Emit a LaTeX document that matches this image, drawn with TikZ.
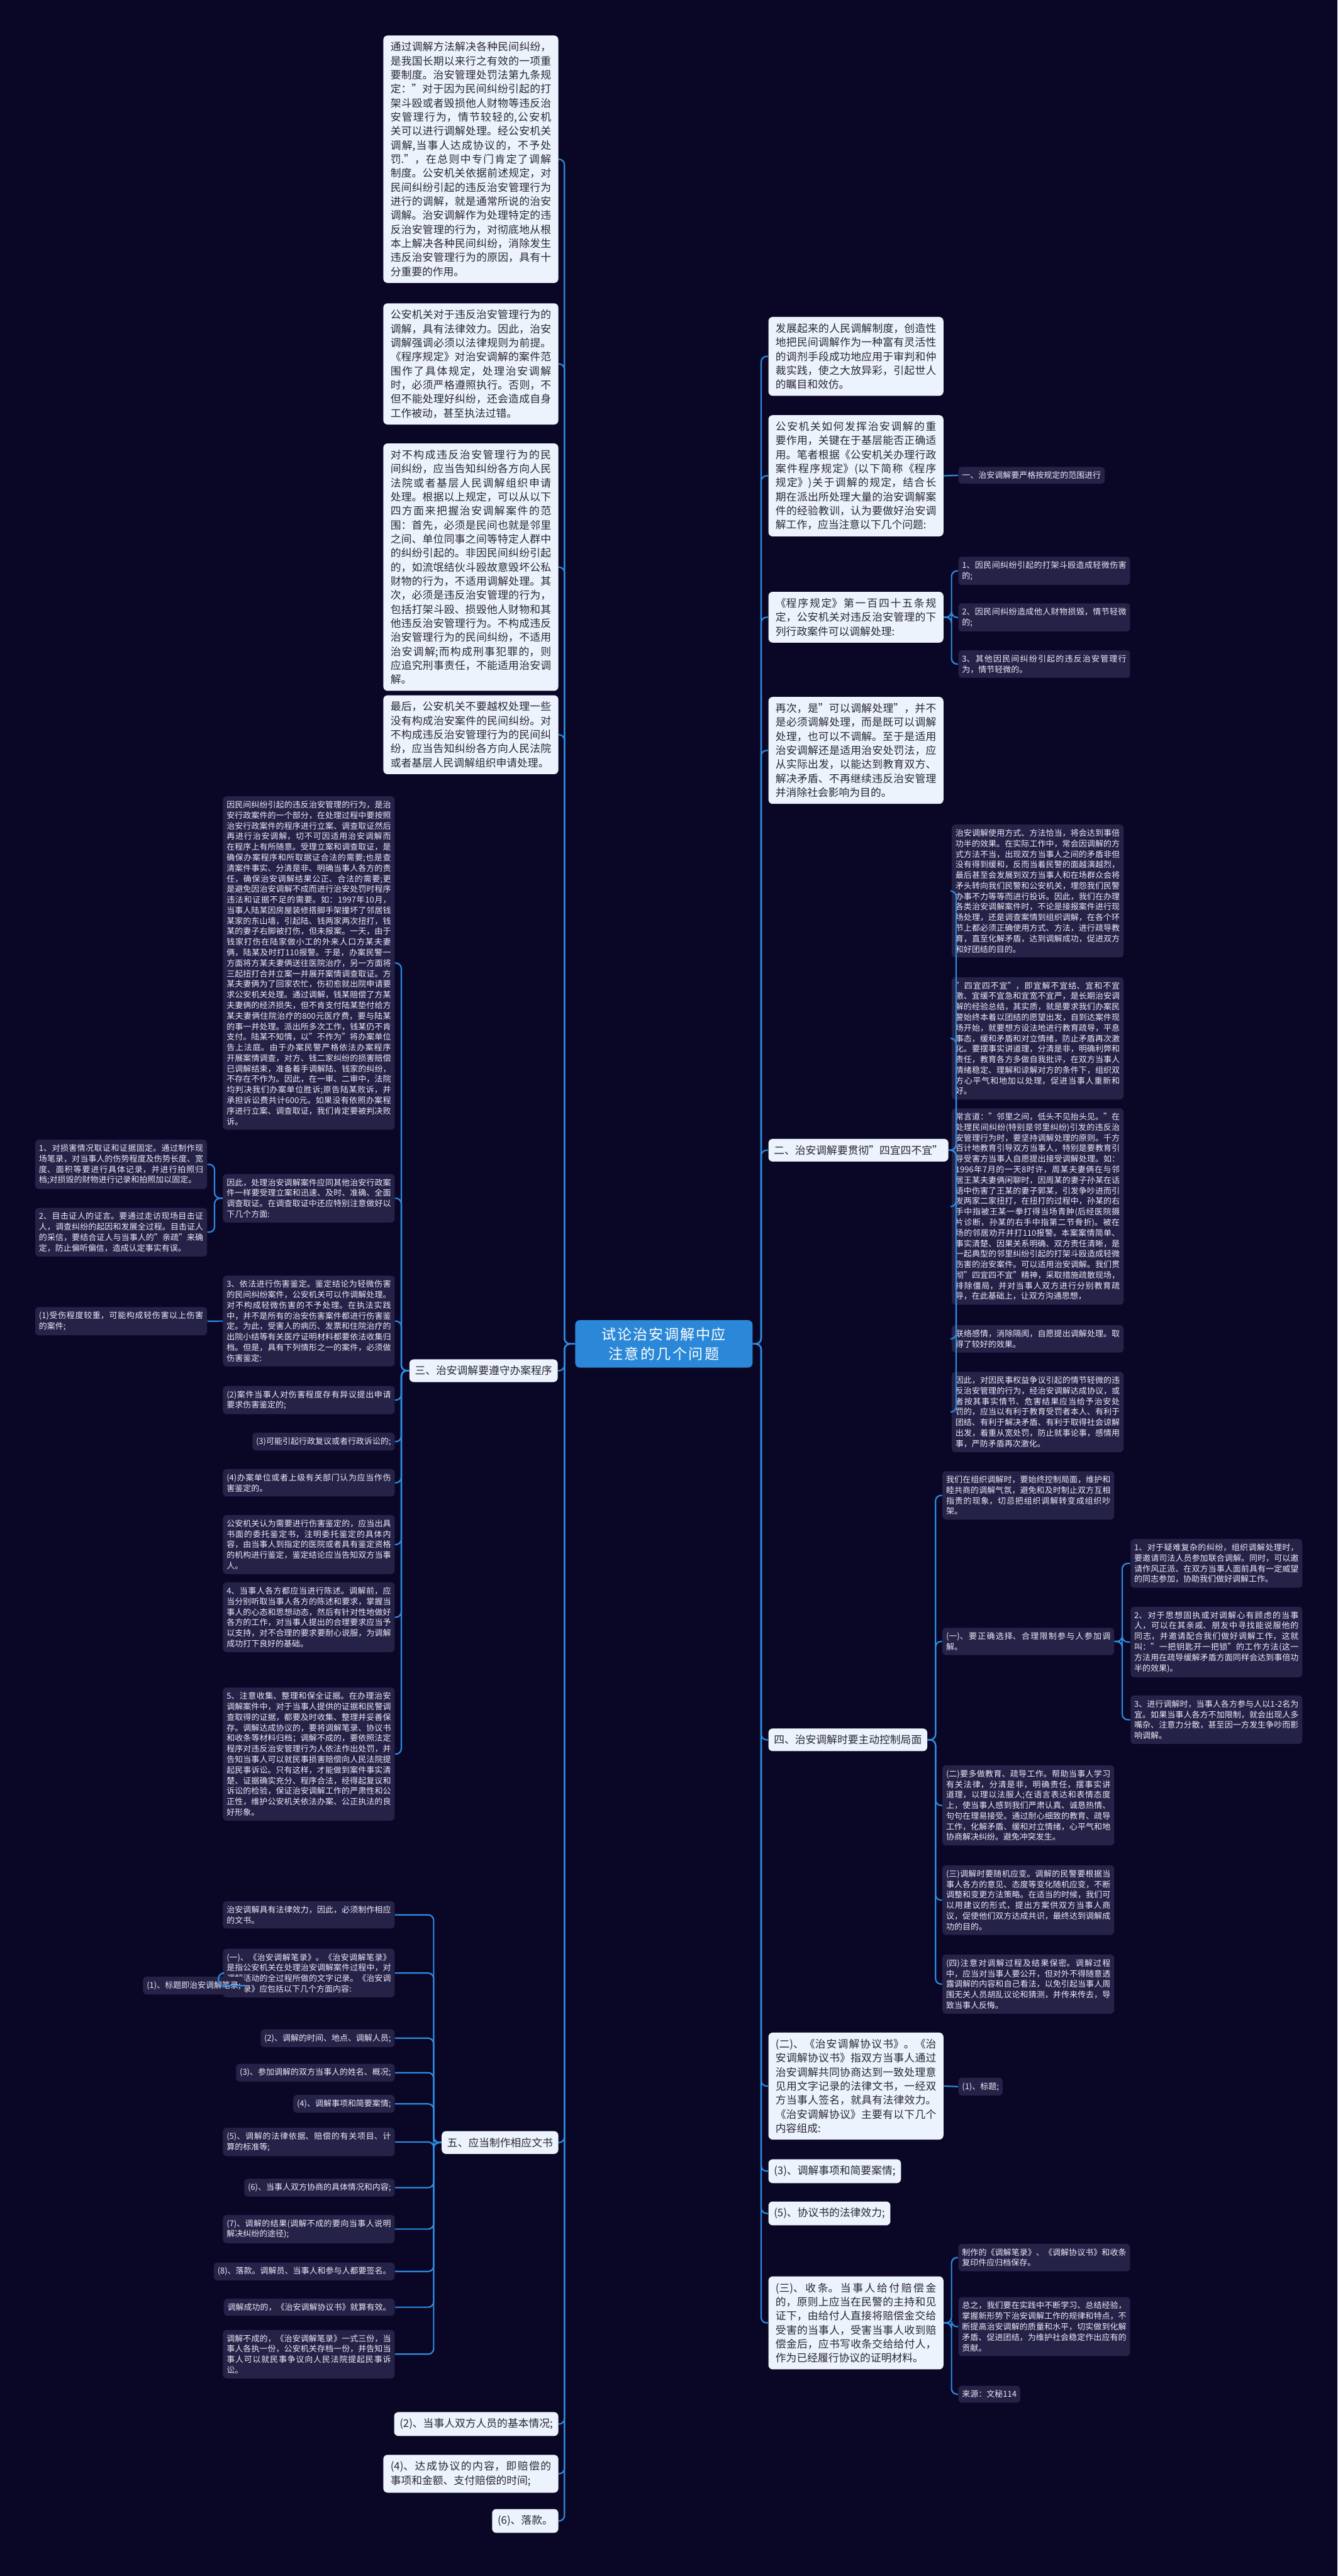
\documentclass[tikz,border=0pt]{standalone}
\usepackage{fontspec}
\setmainfont{Noto Sans CJK SC}
\XeTeXlinebreaklocale "zh"
\XeTeXlinebreakskip = 0pt plus 1pt

\definecolor{bgc}{RGB}{10,7,38}
\definecolor{wfill}{RGB}{237,243,252}
\definecolor{wtext}{RGB}{40,40,52}
\definecolor{dfill}{RGB}{37,34,72}
\definecolor{dtext}{RGB}{236,236,246}
\definecolor{rootc}{RGB}{43,136,216}
\definecolor{linkc}{RGB}{45,139,224}

\newcommand\bigtxt{\fontsize{5.75}{7.65}\selectfont}
\newcommand\smalltxt{\fontsize{4.45}{5.75}\selectfont}
\newcommand\roottxt{\fontsize{7.9}{10.5}\selectfont}

\begin{document}
\begin{tikzpicture}[
    x=0.3145mm, y=-0.3145mm,
    wbox/.style={rectangle, rounded corners=2.3pt, fill=wfill, text=wtext, font=\bigtxt,
        text width=87.5pt, align=justify, inner xsep=3.9pt, inner ysep=3.5pt},
    wtag/.style={rectangle, rounded corners=2.3pt, fill=wfill, text=wtext, font=\bigtxt,
        inner xsep=3pt, inner ysep=3.5pt},
    dbox/.style={rectangle, rounded corners=2pt, fill=dfill, text=dtext, font=\smalltxt,
        text width=89.5pt, align=justify, inner xsep=2pt, inner ysep=2.5pt},
    dtag/.style={rectangle, rounded corners=2pt, fill=dfill, text=dtext, font=\smalltxt,
        inner xsep=2pt, inner ysep=2.5pt},
    link/.style={draw=linkc, line width=0.75pt, rounded corners=3pt}
]
\fill[bgc] (0,0) rectangle (814,1568);
\useasboundingbox (0,0) rectangle (814,1568);

% centre
\node[rectangle, rounded corners=2.5pt, fill=rootc, text=white, font=\roottxt,
      text width=87.5pt, align=center, minimum width=96.6pt, inner ysep=4pt] (root) at (404,818)
      {试论治安调解中应注意的几个问题};

% left side
\node[wbox, anchor=north east] (intro1) at (340,21.4) {通过调解方法解决各种民间纠纷，是我国长期以来行之有效的一项重要制度。治安管理处罚法第九条规定："对于因为民间纠纷引起的打架斗殴或者毁损他人财物等违反治安管理行为，情节较轻的,公安机关可以进行调解处理。经公安机关调解,当事人达成协议的，不予处罚."，在总则中专门肯定了调解制度。公安机关依据前述规定，对民间纠纷引起的违反治安管理行为进行的调解，就是通常所说的治安调解。治安调解作为处理特定的违反治安管理的行为，对彻底地从根本上解决各种民间纠纷，消除发生违反治安管理行为的原因，具有十分重要的作用。};
\node[wbox, anchor=north east] (intro2) at (340,184.4) {公安机关对于违反治安管理行为的调解，具有法律效力。因此，治安调解强调必须以法律规则为前提。《程序规定》对治安调解的案件范围作了具体规定，处理治安调解时，必须严格遵照执行。否则，不但不能处理好纠纷，还会造成自身工作被动，甚至执法过错。};
\node[wbox, anchor=north east] (scope) at (340,269.7) {对不构成违反治安管理行为的民间纠纷，应当告知纠纷各方向人民法院或者基层人民调解组织申请处理。根据以上规定，可以从以下四方面来把握治安调解案件的范围：首先，必须是民间也就是邻里之间、单位同事之间等特定人群中的纠纷引起的。非因民间纠纷引起的，如流氓结伙斗殴故意毁坏公私财物的行为，不适用调解处理。其次，必须是违反治安管理的行为，包括打架斗殴、损毁他人财物和其他违反治安管理行为。不构成违反治安管理行为的民间纠纷，不适用治安调解;而构成刑事犯罪的，则应追究刑事责任，不能适用治安调解。};
\node[wbox, anchor=north east] (lastly) at (340,423) {最后，公安机关不要越权处理一些没有构成治安案件的民间纠纷。对不构成违反治安管理行为的民间纠纷，应当告知纠纷各方向人民法院或者基层人民调解组织申请处理。};

\node[wtag, anchor=north east] (sec3) at (339.6,827.2) {三、治安调解要遵守办案程序};
\node[dbox, anchor=north east] (case97) at (240.4,484.5) {因民间纠纷引起的违反治安管理的行为，是治安行政案件的一个部分，在处理过程中要按照治安行政案件的程序进行立案、调查取证然后再进行治安调解，切不可因适用治安调解而在程序上有所随意。受理立案和调查取证，是确保办案程序和所取据证合法的需要;也是查清案件事实、分清是非、明确当事人各方的责任，确保治安调解结果公正、合法的需要;更是避免因治安调解不成而进行治安处罚时程序违法和证据不足的需要。如：1997年10月，当事人陆某因房屋装修搭脚手架撞坏了邻居钱某家的东山墙，引起陆、钱两家两次扭打，钱某的妻子右脚被打伤，但未报案。一天，由于钱家打伤在陆家做小工的外来人口方某夫妻俩，陆某及时打110报警。于是，办案民警一方面将方某夫妻俩送往医院治疗，另一方面将三起扭打合并立案一并展开案情调查取证。方某夫妻俩为了回家农忙，伤初愈就出院申请要求公安机关处理。通过调解，钱某赔偿了方某夫妻俩的经济损失，但不肯支付陆某垫付给方某夫妻俩住院治疗的800元医疗费，要与陆某的事一并处理。派出所多次工作，钱某仍不肯支付。陆某不知情，以"不作为"将办案单位告上法庭。由于办案民警严格依法办案程序开展案情调查，对方、钱二家纠纷的损害赔偿已调解结束，准备着手调解陆、钱家的纠纷，不存在不作为。因此，在一审、二审中，法院均判决我们办案单位胜诉;原告陆某败诉，并承担诉讼费共计600元。如果没有依照办案程序进行立案、调查取证，我们肯定要被判决败诉。};
\node[dbox, anchor=north east] (evid) at (240.4,714.4) {因此，处理治安调解案件应同其他治安行政案件一样要受理立案和迅速、及时、准确、全面调查取证。在调查取证中还应特别注意做好以下几个方面:};
\node[dbox, anchor=north east] (evid1) at (126.2,693.5) {1、对损害情况取证和证据固定。通过制作现场笔录，对当事人的伤势程度及伤势长度、宽度、面积等要进行具体记录，并进行拍照归档;对损毁的财物进行记录和拍照加以固定。};
\node[dbox, anchor=north east] (evid2) at (126.2,735) {2、目击证人的证言。要通过走访现场目击证人，调查纠纷的起因和发展全过程。目击证人的采信，要结合证人与当事人的"亲疏"来确定，防止偏听偏信，造成认定事实有误。};
\node[dbox, anchor=north east] (ident) at (240.4,776.3) {3、依法进行伤害鉴定。鉴定结论为轻微伤害的民间纠纷案件，公安机关可以作调解处理。对不构成轻微伤害的不予处理。在执法实践中，并不是所有的治安伤害案件都进行伤害鉴定。为此，受害人的病历、发票和住院治疗的出院小结等有关医疗证明材料都要依法收集归档。但是，具有下列情形之一的案件，必须做伤害鉴定:};
\node[dbox, anchor=north east] (ident1) at (126.2,795.4) {(1)受伤程度较重，可能构成轻伤害以上伤害的案件;};
\node[dbox, anchor=north east] (ident2) at (240.4,843.4) {(2)案件当事人对伤害程度存有异议提出申请要求伤害鉴定的;};
\node[dtag, anchor=north east] (ident3) at (240.4,871.9) {(3)可能引起行政复议或者行政诉讼的;};
\node[dbox, anchor=north east] (ident4) at (240.4,894) {(4)办案单位或者上级有关部门认为应当作伤害鉴定的。};
\node[dbox, anchor=north east] (ident5) at (240.4,922) {公安机关认为需要进行伤害鉴定的，应当出具书面的委托鉴定书，注明委托鉴定的具体内容，由当事人到指定的医院或者具有鉴定资格的机构进行鉴定，鉴定结论应当告知双方当事人。};
\node[dbox, anchor=north east] (state) at (240.4,963) {4、当事人各方都应当进行陈述。调解前，应当分别听取当事人各方的陈述和要求，掌握当事人的心态和思想动态，然后有针对性地做好各方的工作，对当事人提出的合理要求应当予以支持，对不合理的要求要耐心说服，为调解成功打下良好的基础。};
\node[dbox, anchor=north east] (collect) at (240.4,1027) {5、注意收集、整理和保全证据。在办理治安调解案件中，对于当事人提供的证据和民警调查取得的证据，都要及时收集、整理并妥善保存。调解达成协议的，要将调解笔录、协议书和收条等材料归档；调解不成的，要依照法定程序对违反治安管理行为人依法作出处罚，并告知当事人可以就民事损害赔偿向人民法院提起民事诉讼。只有这样，才能做到案件事实清楚、证据确实充分、程序合法，经得起复议和诉讼的检验，保证治安调解工作的严肃性和公正性，维护公安机关依法办案、公正执法的良好形象。};

\node[wtag, anchor=north east] (sec5) at (340,1297) {五、应当制作相应文书};
\node[dbox, anchor=north east] (doc0) at (240.4,1157) {治安调解具有法律效力，因此，必须制作相应的文书。};
\node[dbox, anchor=north east] (rec) at (240.4,1186) {(一)、《治安调解笔录》。《治安调解笔录》是指公安机关在处理治安调解案件过程中，对调解活动的全过程所做的文字记录。《治安调解笔录》应包括以下几个方面内容:};
\node[dtag, anchor=north east] (rec1) at (149,1203) {(1)、标题即治安调解笔录;};
\node[dtag, anchor=north east] (rec2) at (240.4,1235) {(2)、调解的时间、地点、调解人员;};
\node[dtag, anchor=north east] (rec3) at (240.4,1256) {(3)、参加调解的双方当事人的姓名、概况;};
\node[dtag, anchor=north east] (rec4) at (240.4,1275) {(4)、调解事项和简要案情;};
\node[dbox, anchor=north east] (rec5) at (240.4,1295) {(5)、调解的法律依据、赔偿的有关项目、计算的标准等;};
\node[dtag, anchor=north east] (rec6) at (240.4,1326) {(6)、当事人双方协商的具体情况和内容;};
\node[dbox, anchor=north east] (rec7) at (240.4,1348) {(7)、调解的结果(调解不成的要向当事人说明解决纠纷的途径);};
\node[dtag, anchor=north east] (rec8) at (240.4,1377) {(8)、落款。调解员、当事人和参与人都要签名。};
\node[dtag, anchor=north east] (rec9) at (240.4,1399) {调解成功的，《治安调解协议书》就算有效。};
\node[dbox, anchor=north east] (rec10) at (240.4,1418) {调解不成的，《治安调解笔录》一式三份，当事人各执一份，公安机关存档一份，并告知当事人可以就民事争议向人民法院提起民事诉讼。};

\node[wtag, anchor=north east] (agr2) at (340,1468) {(2)、当事人双方人员的基本情况;};
\node[wbox, anchor=north east] (agr4) at (340,1494) {(4)、达成协议的内容，即赔偿的事项和金额、支付赔偿的时间;};
\node[wtag, anchor=north east] (agr6) at (340,1527) {(6)、落款。};

% right side
\node[wbox, anchor=north west] (devel) at (467.4,192.7) {发展起来的人民调解制度，创造性地把民间调解作为一种富有灵活性的调剂手段成功地应用于审判和仲裁实践，使之大放异彩，引起世人的瞩目和效仿。};
\node[wbox, anchor=north west] (police) at (467.4,252.5) {公安机关如何发挥治安调解的重要作用，关键在于基层能否正确适用。笔者根据《公安机关办理行政案件程序规定》(以下简称《程序规定》)关于调解的规定，结合长期在派出所处理大量的治安调解案件的经验教训，认为要做好治安调解工作，应当注意以下几个问题:};
\node[dtag, anchor=north west] (sec1) at (583,284) {一、治安调解要严格按规定的范围进行};
\node[wbox, anchor=north west] (art145) at (467.4,360) {《程序规定》第一百四十五条规定，公安机关对违反治安管理的下列行政案件可以调解处理:};
\node[dbox, anchor=north west] (art1) at (583,338.7) {1、因民间纠纷引起的打架斗殴造成轻微伤害的;};
\node[dbox, anchor=north west] (art2) at (583,367) {2、因民间纠纷造成他人财物损毁，情节轻微的;};
\node[dbox, anchor=north west] (art3) at (583,395.6) {3、其他因民间纠纷引起的违反治安管理行为，情节轻微的。};
\node[wbox, anchor=north west] (again) at (467.4,424) {再次，是"可以调解处理"，并不是必须调解处理，而是既可以调解处理，也可以不调解。至于是适用治安调解还是适用治安处罚法，应从实际出发，以能达到教育双方、解决矛盾、不再继续违反治安管理并消除社会影响为目的。};

\node[wtag, anchor=north west] (sec2) at (467.4,693) {二、治安调解要贯彻"四宜四不宜"};
\node[dbox, anchor=north west] (way) at (579,501.7) {治安调解使用方式、方法恰当，将会达到事倍功半的效果。在实际工作中，常会因调解的方式方法不当，出现双方当事人之间的矛盾非但没有得到缓和，反而当着民警的面越演越烈，最后甚至会发展到双方当事人和在场群众会将矛头转向我们民警和公安机关，埋怨我们民警办事不力等等而进行投诉。因此，我们在办理各类治安调解案件时，不论是接报案件进行现场处理，还是调查案情到组织调解，在各个环节上都必须正确使用方式、方法，进行疏导教育，直至化解矛盾，达到调解成功，促进双方和好团结的目的。};
\node[dbox, anchor=north west] (four) at (579,594.6) {"四宜四不宜"，即宜解不宜结、宜和不宜激、宜缓不宜急和宜宽不宜严，是长期治安调解的经验总结，其实质，就是要求我们办案民警始终本着以团结的愿望出发，自到达案件现场开始，就要想方设法地进行教育疏导，平息事态，缓和矛盾和对立情绪，防止矛盾再次激化。要摆事实讲道理，分清是非，明确利弊和责任，教育各方多做自我批评，在双方当事人情绪稳定、理解和谅解对方的条件下，组织双方心平气和地加以处理，促进当事人重新和好。};
\node[dbox, anchor=north west] (neigh) at (579,674.4) {常言道："邻里之间，低头不见抬头见。"在处理民间纠纷(特别是邻里纠纷)引发的违反治安管理行为时，要坚持调解处理的原则。千方百计地教育引导双方当事人，特别是要教育引导受害方当事人自愿提出接受调解处理。如：1996年7月的一天8时许，周某夫妻俩在与邻居王某夫妻俩闲聊时，因周某的妻子孙某在话语中伤害了王某的妻子郭某，引发争吵进而引发两家二家扭打，在扭打的过程中，孙某的右手中指被王某一拳打得当场青肿(后经医院摄片诊断，孙某的右手中指第二节骨折)。被在场的邻居劝开并打110报警。本案案情简单、事实清楚、因果关系明确、双方责任清晰，是一起典型的邻里纠纷引起的打架斗殴造成轻微伤害的治安案件。可以适用治安调解。我们贯彻"四宜四不宜"精神，采取措施疏散现场，排除僵局，并对当事人双方进行分别教育疏导，在此基础上，让双方沟通思想，};
\node[dbox, anchor=north west] (bond) at (579,806.4) {联络感情，消除隔阂，自愿提出调解处理。取得了较好的效果。};
\node[dbox, anchor=north west] (lenient) at (579,834.8) {因此，对因民事权益争议引起的情节轻微的违反治安管理的行为，经治安调解达成协议，或者按其事实情节、危害结果应当给予治安处罚的，应当以有利于教育受罚者本人、有利于团结、有利于解决矛盾、有利于取得社会谅解出发，着重从宽处罚，防止就事论事，感情用事，严防矛盾再次激化。};

\node[wtag, anchor=north west] (sec4) at (467.4,1051.9) {四、治安调解时要主动控制局面};
\node[dbox, anchor=north west] (ctrl) at (573.3,895.3) {我们在组织调解时，要始终控制局面，维护和睦共商的调解气氛，避免和及时制止双方互相指责的现象，切忌把组织调解转变成组织吵架。};
\node[dbox, anchor=north west] (part) at (573.3,990.6) {(一)、要正确选择、合理限制参与人参加调解。};
\node[dbox, anchor=north west] (part1) at (687.8,936.6) {1、对于疑难复杂的纠纷，组织调解处理时，要邀请司法人员参加联合调解。同时，可以邀请作风正派、在双方当事人面前具有一定威望的同志参加，协助我们做好调解工作。};
\node[dbox, anchor=north west] (part2) at (687.8,977.8) {2、对于思想固执或对调解心有顾虑的当事人，可以在其亲戚、朋友中寻找能说服他的同志，并邀请配合我们做好调解工作，这就叫："一把钥匙开一把锁"的工作方法(这一方法用在疏导缓解矛盾方面同样会达到事倍功半的效果)。};
\node[dbox, anchor=north west] (part3) at (687.8,1031.8) {3、进行调解时，当事人各方参与人以1-2名为宜。如果当事人各方不加限制，就会出现人多嘴杂、注意力分散，甚至因一方发生争吵而影响调解。};
\node[dbox, anchor=north west] (teach) at (573.3,1074.3) {(二)要多做教育、疏导工作。帮助当事人学习有关法律，分清是非，明确责任，摆事实讲道理，以理以法服人;在语言表达和表情态度上，使当事人感到我们严肃认真、诚恳热情、句句在理易接受。通过耐心细致的教育、疏导工作，化解矛盾、缓和对立情绪，心平气和地协商解决纠纷。避免冲突发生。};
\node[dbox, anchor=north west] (adapt) at (573.3,1135.2) {(三)调解时要随机应变。调解的民警要根据当事人各方的意见、态度等变化随机应变，不断调整和变更方法策略。在适当的时候，我们可以用建议的形式，提出方案供双方当事人商议，促使他们双方达成共识，最终达到调解成功的目的。};
\node[dbox, anchor=north west] (secret) at (573.3,1189.5) {(四)注意对调解过程及结果保密。调解过程中，应当对当事人要公开，但对外不得随意透露调解的内容和自己看法，以免引起当事人周围无关人员胡乱议论和猜测，并传来传去，导致当事人反悔。};

\node[wbox, anchor=north west] (agree) at (467.4,1237) {(二)、《治安调解协议书》。《治安调解协议书》指双方当事人通过治安调解共同协商达到一致处理意见用文字记录的法律文书，一经双方当事人签名，就具有法律效力。《治安调解协议》主要有以下几个内容组成:};
\node[dtag, anchor=north west] (agr1) at (583,1264.5) {(1)、标题;};
\node[wtag, anchor=north west] (agr3) at (467.4,1314.1) {(3)、调解事项和简要案情;};
\node[wtag, anchor=north west] (agr5) at (467.4,1339.8) {(5)、协议书的法律效力;};
\node[wbox, anchor=north west] (receipt) at (467.4,1385.4) {(三)、收条。当事人给付赔偿金的，原则上应当在民警的主持和见证下，由给付人直接将赔偿金交给受害的当事人，受害当事人收到赔偿金后，应书写收条交给给付人，作为已经履行协议的证明材料。};
\node[dbox, anchor=north west] (file) at (583,1365.6) {制作的《调解笔录》、《调解协议书》和收条复印件应归档保存。};
\node[dbox, anchor=north west] (sumup) at (583,1398) {总之，我们要在实践中不断学习、总结经验，掌握新形势下治安调解工作的规律和特点，不断提高治安调解的质量和水平，切实做到化解矛盾、促进团结，为维护社会稳定作出应有的贡献。};
\node[dtag, anchor=north west] (src) at (583,1452) {来源：文秘114};

% connectors, left
\draw[link] (root.west) -- ++(-6.3,0) |- (intro1.east);
\draw[link] (root.west) -- ++(-6.3,0) |- (intro2.east);
\draw[link] (root.west) -- ++(-6.3,0) |- (scope.east);
\draw[link] (root.west) -- ++(-6.3,0) |- (lastly.east);
\draw[link] (root.west) -- ++(-6.3,0) |- (sec3.east);
\draw[link] (root.west) -- ++(-6.3,0) |- (sec5.east);
\draw[link] (root.west) -- ++(-6.3,0) |- (agr2.east);
\draw[link] (root.west) -- ++(-6.3,0) |- (agr4.east);
\draw[link] (root.west) -- ++(-6.3,0) |- (agr6.east);

\draw[link] (sec3.west) -- ++(-4.7,0) |- (case97.east);
\draw[link] (sec3.west) -- ++(-4.7,0) |- (evid.east);
\draw[link] (sec3.west) -- ++(-4.7,0) |- (ident.east);
\draw[link] (sec3.west) -- ++(-4.7,0) |- (ident2.east);
\draw[link] (sec3.west) -- ++(-4.7,0) |- (ident3.east);
\draw[link] (sec3.west) -- ++(-4.7,0) |- (ident4.east);
\draw[link] (sec3.west) -- ++(-4.7,0) |- (ident5.east);
\draw[link] (sec3.west) -- ++(-4.7,0) |- (state.east);
\draw[link] (sec3.west) -- ++(-4.7,0) |- (collect.east);
\draw[link] (evid.west) -- ++(-4.9,0) |- (evid1.east);
\draw[link] (evid.west) -- ++(-4.9,0) |- (evid2.east);
\draw[link] (ident.west) -- (ident1.east);

\draw[link] (sec5.west) -- ++(-4.7,0) |- (doc0.east);
\draw[link] (sec5.west) -- ++(-4.7,0) |- (rec.east);
\draw[link] (sec5.west) -- ++(-4.7,0) |- (rec2.east);
\draw[link] (sec5.west) -- ++(-4.7,0) |- (rec3.east);
\draw[link] (sec5.west) -- ++(-4.7,0) |- (rec4.east);
\draw[link] (sec5.west) -- ++(-4.7,0) |- (rec5.east);
\draw[link] (sec5.west) -- ++(-4.7,0) |- (rec6.east);
\draw[link] (sec5.west) -- ++(-4.7,0) |- (rec7.east);
\draw[link] (sec5.west) -- ++(-4.7,0) |- (rec8.east);
\draw[link] (sec5.west) -- ++(-4.7,0) |- (rec9.east);
\draw[link] (sec5.west) -- ++(-4.7,0) |- (rec10.east);
\draw[link] (rec.west) -- ++(-2.5,0) |- (rec1.east);

% connectors, right
\draw[link] (root.east) -- ++(5,0) |- (devel.west);
\draw[link] (root.east) -- ++(5,0) |- (police.west);
\draw[link] (root.east) -- ++(5,0) |- (art145.west);
\draw[link] (root.east) -- ++(5,0) |- (again.west);
\draw[link] (root.east) -- ++(5,0) |- (sec2.west);
\draw[link] (root.east) -- ++(5,0) |- (sec4.west);
\draw[link] (root.east) -- ++(5,0) |- (agree.west);
\draw[link] (root.east) -- ++(5,0) |- (agr3.west);
\draw[link] (root.east) -- ++(5,0) |- (agr5.west);
\draw[link] (root.east) -- ++(5,0) |- (receipt.west);

\draw[link] (police.east) -- (sec1.west);
\draw[link] (art145.east) -- ++(4.7,0) |- (art1.west);
\draw[link] (art145.east) -- ++(4.7,0) |- (art2.west);
\draw[link] (art145.east) -- ++(4.7,0) |- (art3.west);

\draw[link] (sec2.east) -- ++(4.5,0) |- (way.west);
\draw[link] (sec2.east) -- ++(4.5,0) |- (four.west);
\draw[link] (sec2.east) -- ++(4.5,0) |- (neigh.west);
\draw[link] (sec2.east) -- ++(4.5,0) |- (bond.west);
\draw[link] (sec2.east) -- ++(4.5,0) |- (lenient.west);

\draw[link] (sec4.east) -- ++(4.8,0) |- (ctrl.west);
\draw[link] (sec4.east) -- ++(4.8,0) |- (part.west);
\draw[link] (sec4.east) -- ++(4.8,0) |- (teach.west);
\draw[link] (sec4.east) -- ++(4.8,0) |- (adapt.west);
\draw[link] (sec4.east) -- ++(4.8,0) |- (secret.west);
\draw[link] (part.east) -- ++(4.7,0) |- (part1.west);
\draw[link] (part.east) -- ++(4.7,0) |- (part2.west);
\draw[link] (part.east) -- ++(4.7,0) |- (part3.west);

\draw[link] (agree.east) -- (agr1.west);
\draw[link] (receipt.east) -- ++(4.7,0) |- (file.west);
\draw[link] (receipt.east) -- ++(4.7,0) |- (sumup.west);
\draw[link] (receipt.east) -- ++(4.7,0) |- (src.west);
\end{tikzpicture}
\end{document}
